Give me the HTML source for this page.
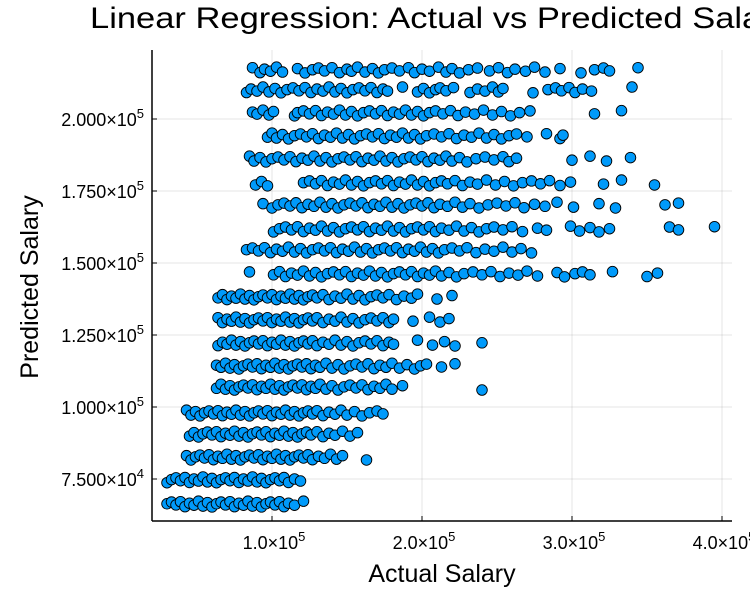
<!DOCTYPE html>
<html><head><meta charset="utf-8"><style>
body{margin:0;background:#fff;overflow:hidden}
svg{display:block;font-family:"Liberation Sans","DejaVu Sans",sans-serif}
</style></head><body>
<svg id="chart" width="750" height="600" viewBox="0 0 750 600" xmlns="http://www.w3.org/2000/svg">
<text x="90" y="28" font-size="30" fill="#000" textLength="700" lengthAdjust="spacingAndGlyphs">Linear Regression: Actual vs Predicted Salary</text>
<g id="grid"></g>
<g id="points"></g>
<g id="axes"></g>
<text x="442" y="582" font-size="25" text-anchor="middle">Actual Salary</text>
<text transform="translate(38,287) rotate(-90)" font-size="25" text-anchor="middle">Predicted Salary</text>
</svg>
<script>
// predicted salary levels (thousands) for each row
const predictedLevels = [217.0,210.1,202.1,194.1,186.1,177.8,170.1,161.8,154.5,146.2,138.2,130.2,122.2,114.2,106.9,97.9,90.6,82.6,74.7,66.3];
// actual salary values (thousands) per row
const actualRows = [
[87,92,95,99,103,107,117,122,127,131,135,140,145,150,153,157,162,167,171,175,180,185,191,195,200,205,211,216,220,225,231,237,245,251,257,262,269,275,282,292,306,315,321,325,344],
[83,86,90,94,98,102,106,110,114,118,122,126,130,134,138,142,146,150,154,158,162,166,170,174,177,187,197,201,205,209,212,216,221,232,237,242,247,251,254,274,284,289,293,298,302,307,313,340],
[87,90,94,98,101,115,117,121,125,129,133,137,141,145,149,153,157,161,165,169,173,177,181,185,189,193,197,201,205,209,214,219,224,229,235,241,247,253,259,265,272,315,333],
[97,100,103,107,111,115,119,123,127,131,135,139,143,147,151,155,159,163,167,171,175,179,183,187,191,195,199,203,208,213,218,223,228,233,238,243,248,253,258,263,270,283,292,294],
[85,88,92,96,100,104,108,112,116,120,124,128,132,136,140,144,148,152,156,160,164,168,172,176,180,184,188,192,196,200,204,208,212,216,220,225,230,236,242,248,254,258,263,300,312,323,339],
[89,93,97,121,125,129,133,137,141,145,149,153,157,161,165,169,173,177,181,185,189,193,197,201,205,209,213,217,222,227,232,237,243,249,255,261,267,273,279,285,292,299,321,333,355],
[94,100,104,108,112,116,120,124,128,132,136,140,144,148,152,156,160,164,168,172,176,180,184,188,192,196,200,204,208,212,217,222,227,232,238,244,250,256,262,268,275,282,290,301,318,329,362,371],
[101,105,109,113,117,121,125,129,133,137,141,145,149,153,157,161,165,169,173,177,181,185,189,193,197,201,205,209,213,218,223,228,233,238,243,248,254,260,267,277,283,299,305,312,318,325,365,371,395],
[83,87,91,95,99,103,107,111,115,119,123,127,131,135,139,143,147,151,155,159,163,167,171,175,179,183,187,191,195,199,203,207,211,215,220,225,230,236,242,248,254,260,266,273],
[85,101,105,109,113,117,121,125,129,133,137,141,145,149,153,157,161,165,169,173,177,181,185,189,193,197,201,205,209,213,218,223,228,234,240,246,252,258,264,270,277,290,295,302,307,312,327,350,357],
[64,67,70,73,76,79,82,85,88,91,94,97,100,103,106,109,112,115,118,121,124,127,130,134,138,142,146,150,154,158,162,166,170,174,178,183,188,193,197,210,220],
[64,67,70,73,76,79,82,85,88,91,94,97,100,103,106,109,112,115,118,121,124,127,130,134,138,142,146,150,154,158,162,166,170,174,178,181,194,205,212,218],
[64,67,70,73,76,79,82,85,88,91,94,97,100,103,106,109,112,115,118,121,124,127,130,134,138,142,146,150,154,158,162,166,170,174,178,181,197,207,215,222,240],
[63,66,69,72,75,78,81,84,87,90,93,96,99,102,105,108,111,114,117,120,123,126,129,132,136,140,144,148,152,156,160,164,168,172,176,180,185,190,195,199,203,213,222],
[63,66,69,72,75,78,81,84,87,90,93,96,99,102,105,108,111,114,117,120,123,126,129,132,136,140,144,148,152,156,160,164,168,172,176,180,187,240],
[43,46,49,52,55,58,61,64,67,70,73,76,79,82,85,88,91,94,97,100,103,106,109,112,115,118,121,124,127,130,134,138,142,146,150,155,160,165,170,174],
[45,48,51,54,57,60,63,66,69,72,75,78,81,84,87,90,93,96,99,102,105,108,111,114,117,120,123,126,130,134,138,142,147,152,157],
[43,46,49,52,55,58,61,64,67,70,73,76,79,82,85,88,91,94,97,100,103,106,109,112,115,118,121,124,127,131,135,139,143,147,163],
[30,33,36,39,42,45,48,51,54,57,60,63,66,69,72,75,78,81,84,87,90,93,96,99,102,105,108,111,115,119],
[30,33,36,39,42,45,48,51,54,57,60,63,66,69,72,75,78,81,84,87,90,93,96,99,102,105,108,111,115,121]
];
// small residual offsets (thousands) cycled along each row, read from row thickness
const rowJitter = [0.8,-0.9,0.3,-0.4,1.0,-0.7,0.5,-1.0,0.1,0.7,-0.3];
const xTickValues = [100,200,300,400];
const xTickLabels = ["1.0","2.0","3.0","4.0"];
const yTickValues = [75,100,125,150,175,200];
const yTickLabels = ["7.500","1.000","1.250","1.500","1.750","2.000"];
const yTickExps = ["4","5","5","5","5","5"];

const NS="http://www.w3.org/2000/svg";
const L=152,R=732,T=50,B=521;
function xs(v){return 122+v*1.5;}
function ys(v){return 119+(200-v)*72/25;}
function mk(tag,attrs,parent){const e=document.createElementNS(NS,tag);for(const k in attrs)e.setAttribute(k,attrs[k]);parent.appendChild(e);return e;}
const grid=document.getElementById('grid'),pts=document.getElementById('points'),axes=document.getElementById('axes');
xTickValues.forEach((v,i)=>{
  const g=mk('line',{x1:xs(v),x2:xs(v),y1:T,y2:B,stroke:'#000','stroke-opacity':0.1,'stroke-width':1},grid);
  
  
  const tk=mk('line',{x1:xs(v),x2:xs(v),y1:B,y2:B-5,stroke:'#000','stroke-width':1},axes);
  
  
  const t=mk('text',{x:xs(v)+2,y:549,'font-size':18,'text-anchor':'middle'},axes);
  
  
  t.textContent=xTickLabels[i]+'×10';
  const s=mk('tspan',{dy:-8,'font-size':13},t);s.textContent='5';
});
yTickValues.forEach((v,i)=>{
  const g=mk('line',{x1:L,x2:R,y1:ys(v),y2:ys(v),stroke:'#000','stroke-opacity':0.1,'stroke-width':1},grid);
  
  
  const tk=mk('line',{x1:L,x2:L+5,y1:ys(v),y2:ys(v),stroke:'#000','stroke-width':1},axes);
  
  
  const t=mk('text',{x:144,y:ys(v)+7,'font-size':18,'text-anchor':'end'},axes);
  
  
  t.textContent=yTickLabels[i]+'×10';
  const s=mk('tspan',{dy:-8,'font-size':13},t);s.textContent=yTickExps[i];
});
const ax1=mk('line',{x1:L,x2:L,y1:T,y2:B,stroke:'#000','stroke-width':1.5},axes);


const ax2=mk('line',{x1:L,x2:R,y1:B,y2:B,stroke:'#000','stroke-width':1.5},axes);


actualRows.forEach((row,ri)=>{
  row.forEach((a,j)=>{
    const c=mk('circle',{cx:xs(a),cy:ys(predictedLevels[ri]+rowJitter[(j+ri)%rowJitter.length]),r:5.3,fill:'#009AFA',stroke:'#000','stroke-width':0.9},pts);
    
    
  });
});
</script>
</body></html>
